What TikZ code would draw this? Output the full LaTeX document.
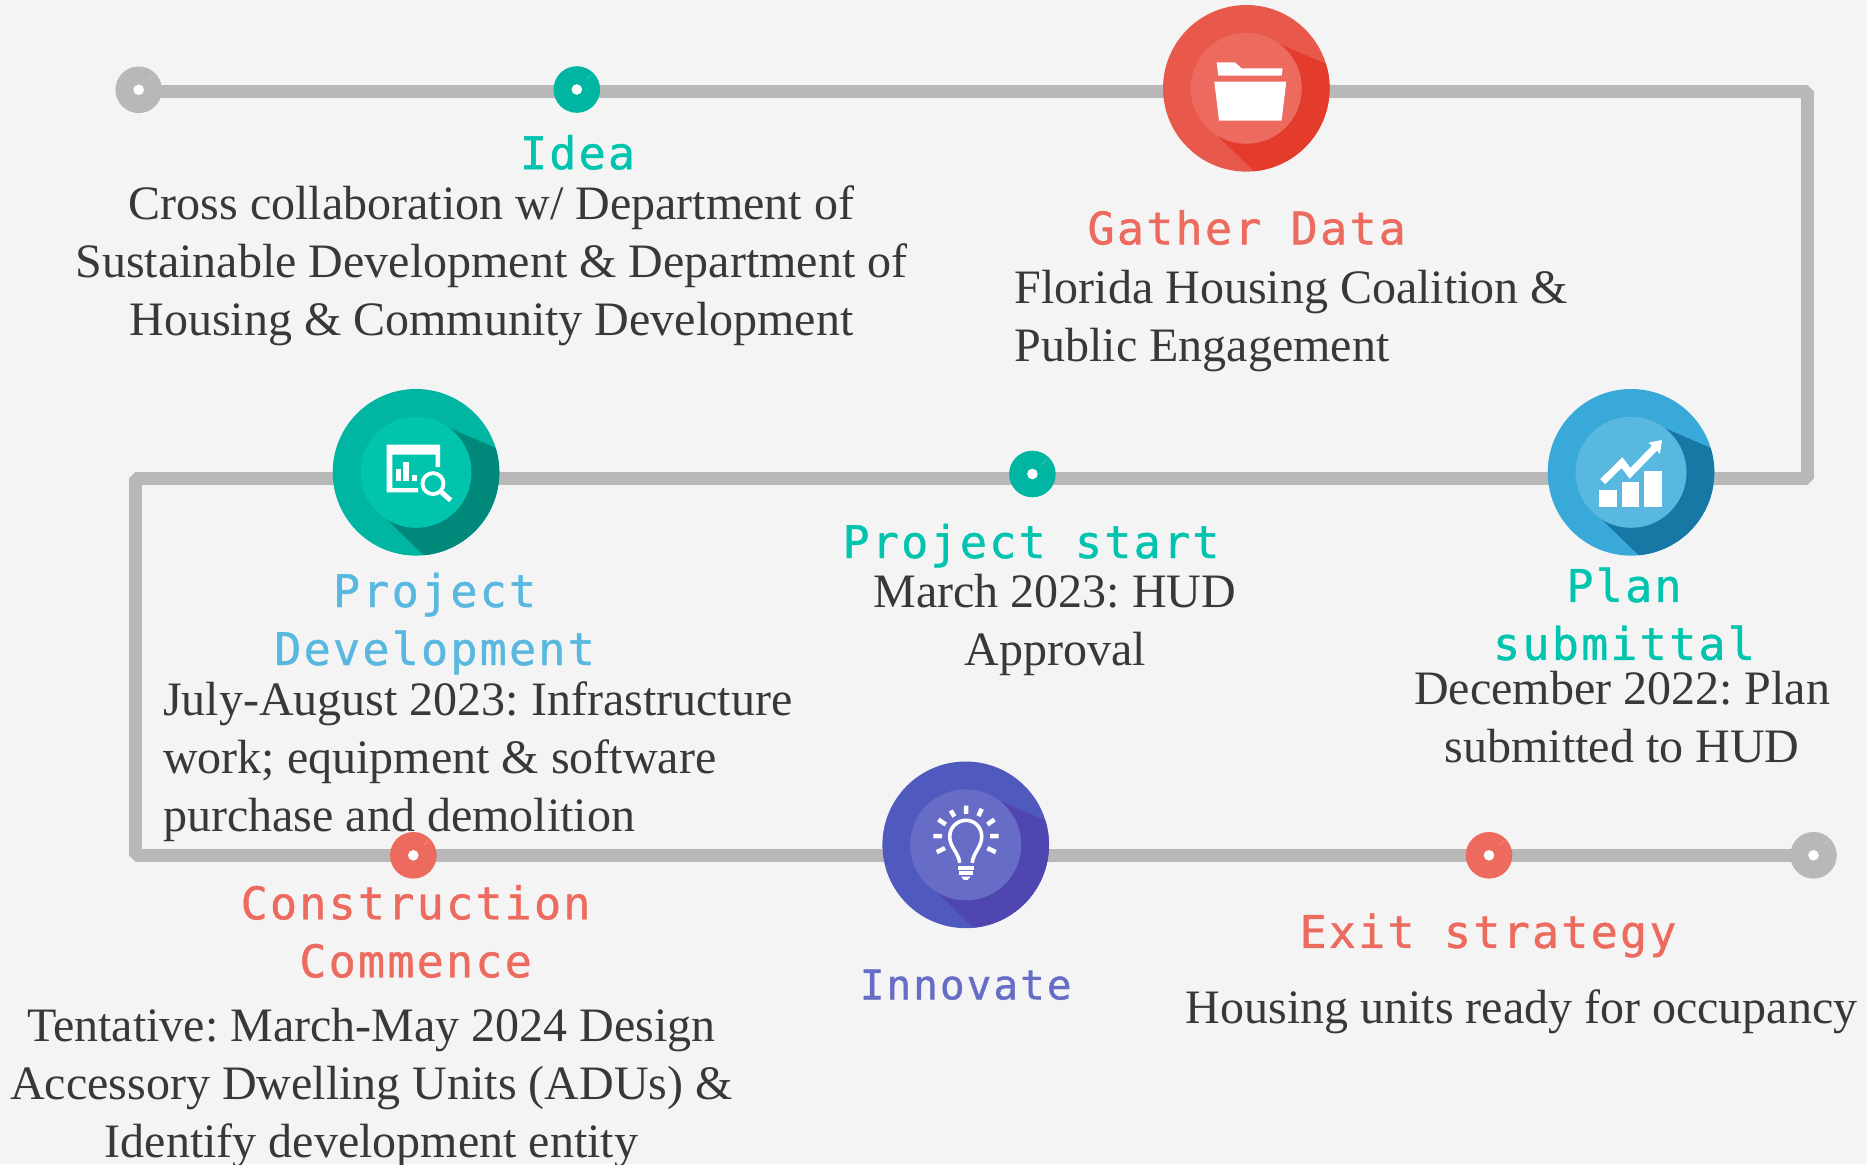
\documentclass[tikz,border=0pt]{standalone}
\usepackage{fontspec}
\setmainfont{Liberation Serif}
\newfontfamily\labelfamily[LetterSpace=5,FakeBold=0.9]{DejaVu Sans Mono}
\usetikzlibrary{backgrounds,calc}
\definecolor{bgc}{HTML}{F4F4F4}
\definecolor{linec}{HTML}{B8B8B8}
\definecolor{txtc}{HTML}{383838}
\definecolor{redA}{HTML}{E8594C}\definecolor{redB}{HTML}{EC6A5E}\definecolor{redC}{HTML}{E33B2C}
\definecolor{bluA}{HTML}{39A9DA}\definecolor{bluB}{HTML}{59B8E0}\definecolor{bluC}{HTML}{1878A5}
\definecolor{grnA}{HTML}{00B5A2}\definecolor{grnB}{HTML}{00C4AE}\definecolor{grnC}{HTML}{00897A}
\definecolor{purA}{HTML}{5059BE}\definecolor{purB}{HTML}{676DC6}\definecolor{purC}{HTML}{5046B2}
\newcommand{\bodyfont}{\frenchspacing\fontsize{48}{58}\selectfont}
\newcommand{\labelfont}{\labelfamily\fontsize{45}{58}\selectfont}
\tikzset{
  x=1pt,y=-1pt,
  track/.style={draw=linec,line width=13.3pt,line join=bevel},
  body/.style={font=\bodyfont,text=txtc,inner sep=0pt,align=center},
  bodyleft/.style={font=\bodyfont,text=txtc,inner sep=0pt,align=left},
  lab/.style={font=\labelfont,inner sep=0pt,align=center},
  labsmall/.style={font=\labelfamily\fontsize{41}{58}\selectfont,inner sep=0pt,align=center},
  dot/.style={circle,inner sep=0pt,minimum size=46.6pt},
  disc/.style={circle,inner sep=0pt,minimum size=166.6pt},
}
% badge: name, x, y, outer, inner, shadow colours, icon
\newcommand{\badge}[7]{%
  \node[disc,fill=#4] (#1) at (#2,#3) {};
  \begin{scope}[shift={(#2,#3)}]
    \begin{scope}
      \clip (0,0) circle (83.3pt);
      \fill[#6] (31.7,-45) -- (90,-20) -- (130,60) -- (20,95) -- (-29.6,46.7) -- cycle;
    \end{scope}
    \fill[#5] (0,0) circle (55.5pt);
    #7
  \end{scope}}
\newcommand{\tinydot}[5]{%
  \node[dot,fill=#4] (#1) at (#2,#3) {};
  \draw[#5,line width=0.6pt] ($(#2,#3)+(10,-10)$) -- ($(#2,#3)+(15,-15)$);
  \fill[white] (#2,#3) circle (5.3pt);}
\begin{document}
\begin{tikzpicture}
\useasboundingbox (0,0) rectangle (1867,1164);
\coordinate (tr) at (1807.7,91.7);
\coordinate (mr) at (1807.7,478.3);
\coordinate (ml) at (135.7,478.3);
\coordinate (bl) at (135.7,855.2);

\tinydot{start}{138.7}{89.8}{linec}{white!25!linec}
\tinydot{idea}{576.8}{89.5}{grnA}{white!25!grnA}
\tinydot{pstart}{1032.4}{474}{grnA}{white!25!grnA}
\tinydot{constr}{413.3}{855.3}{redB}{white!25!redB}
\tinydot{exit}{1489}{855.3}{redB}{white!25!redB}
\tinydot{finish}{1813.5}{855.3}{linec}{white!25!linec}

\badge{gather}{1246.3}{88.3}{redA}{redB}{redC}{%
  \fill[white] (-29.7,-26) -- (-11.3,-26) -- (-4.7,-20) -- (36.3,-20) -- (35.3,-12.7) -- (-28,-12.7) -- cycle;
  \fill[white] (-32,-6.7) -- (40,-6.7) -- (35.3,32.3) -- (-27.3,32.3) -- cycle;}

\badge{plan}{1631}{472.3}{bluA}{bluB}{bluC}{%
  \fill[white] (-31.7,17.7) rectangle (-14.3,34.3);
  \fill[white] (-9,9.3) rectangle (8.3,34.3);
  \fill[white] (13.3,-1.3) rectangle (31,34.3);
  \draw[white,line width=7pt,line join=miter] (-28.3,9.3) -- (-9,-9.7) -- (-1,1) -- (25,-25.7);
  \fill[white] (31,-32.3) -- (17.7,-29.7) -- (29,-18.3) -- cycle;}

\badge{pdev}{416}{472.3}{grnA}{grnB}{grnC}{%
  \fill[white] (-29.3,-27.7) -- (24,-27.7) -- (24,-5.3) -- (19.7,-5.3) -- (19.7,-17.7) -- (-23.7,-17.7) -- (-23.7,15.7) -- (2,15.7) -- (2,20) -- (-29.3,20) -- cycle;
  \fill[white] (-20.3,-3.3) rectangle (-15.3,8.3);
  \fill[white] (-13,-10) rectangle (-6.7,8.3);
  \fill[white] (-4.3,2.3) rectangle (0.7,8.3);
  \draw[white,line width=3.8pt] (17,11.3) circle (10.5pt);
  \draw[white,line width=5pt] (25.5,20) -- (34.7,28);}

\badge{innov}{965.7}{844.8}{purA}{purB}{purC}{%
  \draw[white,line width=3.6pt] (-6,18) .. controls (-7,8) and (-16,2) .. (-16,-8) .. controls (-16,-18) and (-8,-24.5) .. (0.3,-24.5) .. controls (8.5,-24.5) and (16,-18) .. (16,-8) .. controls (16,2) and (7.5,8) .. (6.5,18);
  \fill[white] (-8,20.7) rectangle (8.7,24.7);
  \fill[white] (-7,26.3) rectangle (7.7,29.7);
  \fill[white] (-4.7,31.7) -- (5,31.7) -- (2,35) -- (-2,35) -- cycle;
  \draw[white,line width=4.5pt]
    (0.3,-39.3) -- (0.3,-31)
    (-15,-34.3) -- (-11.3,-28.3)
    (16,-36) -- (12.7,-28.7)
    (-27.3,-25.3) -- (-20,-20.3)
    (28.7,-25.3) -- (21.7,-20.3)
    (-32.3,-8.7) -- (-23.7,-8.7)
    (24.3,-8.7) -- (33,-8.7)
    (-29,7.3) -- (-20.7,3.3)
    (30,7.3) -- (21.7,3.3);}

\begin{pgfonlayer}{background}
  \fill[bgc] (0,0) rectangle (1867,1164);
  \draw[track] (start.center |- tr) -- (tr) -- (mr) -- (ml) -- (bl) -- (finish.center |- bl);
\end{pgfonlayer}

\node[lab,text=grnB] (tidea) at (577.5,152.4) {Idea};
\node[body] (bidea) at (491.5,265.3) {Cross collaboration w/ Department of\\Sustainable Development \& Department of\\Housing \& Community Development};
\node[lab,text=redB] (tgather) at (1246.7,227.6) {Gather Data};
\node[bodyleft,anchor=west] (bgather) at (1014.5,320.8) {Florida Housing Coalition \&\\Public Engagement};
\node[lab,text=grnB] (tpstart) at (1031,545.6) {Project start};
\node[body] (bpstart) at (1055,624.8) {March 2023: HUD\\Approval};
\node[lab,text=grnB] (tplan) at (1624,614) {Plan\\submittal};
\node[body] (bplan) at (1622,717.5) {December 2022: Plan\\submitted to HUD};
\node[lab,text=bluB] (tpdev) at (434.6,623.6) {Project\\Development};
\node[bodyleft,anchor=west] (bpdev) at (163,761.8) {July-August 2023: Infrastructure\\work; equipment \& software\\purchase and demolition};
\node[lab,text=redB] (tconstr) at (415.6,931.5) {Construction\\Commence};
\node[body] (bconstr) at (371.5,1088) {Tentative: March-May 2024 Design\\Accessory Dwelling Units (ADUs) \&\\Identify development entity};
\node[labsmall,text=purB] (tinnov) at (965.7,984.7) {Innovate};
\node[lab,text=redB] (texit) at (1488,935.6) {Exit strategy};
\node[body] (bexit) at (1521.6,1012) {Housing units ready for occupancy};
\end{tikzpicture}
\end{document}
